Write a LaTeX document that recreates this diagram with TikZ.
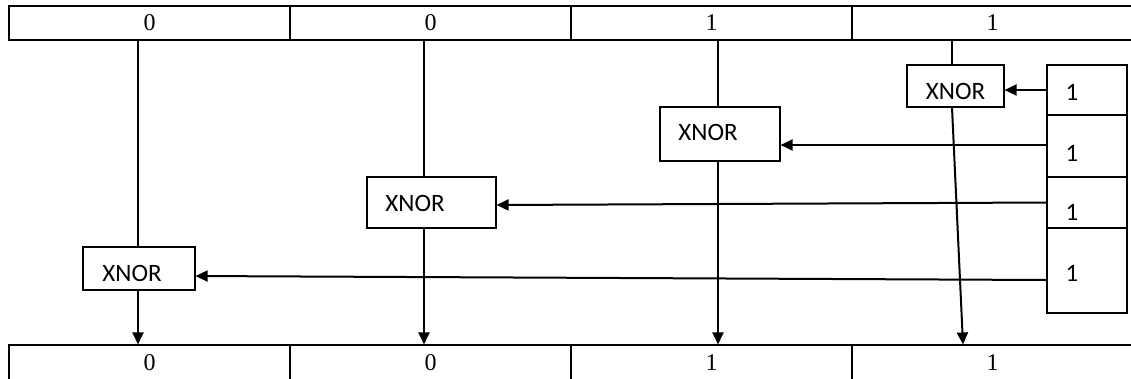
\documentclass[tikz,border=0pt]{standalone}
\usepackage{fontspec}
\setmainfont{Liberation Serif}
\newfontfamily\gatefont{Carlito}
\usetikzlibrary{arrows.meta}
\begin{document}
\begin{tikzpicture}[x=1pt,y=-1pt,
  thinline/.style={line width=1.1pt},
  cell/.style={draw,thinline,rectangle,inner sep=0pt,minimum width=281pt,minimum height=34pt,
    font=\fontsize{24}{27}\selectfont},
  lowcell/.style={cell,minimum height=40pt,text height=16pt,text depth=6pt},
  gatebox/.style={draw,thinline,rectangle,inner sep=0pt},
  gatetext/.style={inner sep=0pt,font=\gatefont\fontsize{25}{29}\selectfont},
  keybox/.style={draw,thinline,rectangle,inner sep=0pt,minimum width=80pt},
  arr/.style={line width=2pt,-{Triangle[length=12pt,width=11pt]}}]
\useasboundingbox (0,0) rectangle (1131,378);
\clip (0,0) rectangle (1131,378);
% top table
\node[cell] (t1) at (149.5,23) {0};
\node[cell] (t2) at (430.5,23) {0};
\node[cell] (t3) at (711.5,23) {1};
\node[cell] (t4) at (992.5,23) {1};
% bottom table (cut off by the lower edge)
\node[lowcell] (b1) at (149.5,365) {0};
\node[lowcell] (b2) at (430.5,365) {0};
\node[lowcell] (b3) at (711.5,365) {1};
\node[lowcell] (b4) at (992.5,365) {1};
% gates
\node[gatebox,minimum width=112pt,minimum height=43pt] (g1) at (139,268.5) {};
\node[gatebox,minimum width=129pt,minimum height=51pt] (g2) at (431.5,202.5) {};
\node[gatebox,minimum width=120pt,minimum height=54pt] (g3) at (720,134) {};
\node[gatebox,minimum width=97pt,minimum height=42pt] (g4) at (955.5,86) {};
\node[gatetext] (x1) at (132,273) {XNOR};
\node[gatetext] (x2) at (415,203) {XNOR};
\node[gatetext] (x3) at (708,132) {XNOR};
\node[gatetext] (x4) at (955.5,91) {XNOR};
% key register
\node[keybox,minimum height=50pt] (k1) at (1087,90) {};
\node[keybox,minimum height=62pt] (k2) at (1087,146) {};
\node[keybox,minimum height=51pt] (k3) at (1087,202.5) {};
\node[keybox,minimum height=85pt] (k4) at (1087,270.5) {};
\node[gatetext] (v1) at (1072,92) {1};
\node[gatetext] (v2) at (1072,153) {1};
\node[gatetext] (v3) at (1072,212) {1};
\node[gatetext] (v4) at (1072,273) {1};
% column positions
\coordinate (c1) at (138,0);
\coordinate (c2) at (424,0);
\coordinate (c3) at (718,0);
\coordinate (c4) at (952,0);
\coordinate (e4) at (963,0);
% column lines
\draw[thinline] (c1 |- t1.south) -- (c1 |- g1.north);
\draw[thinline] (c2 |- t2.south) -- (c2 |- g2.north);
\draw[thinline] (c3 |- t3.south) -- (c3 |- g3.north);
\draw[thinline] (c4 |- t4.south) -- (c4 |- g4.north);
\draw[arr] (c1 |- g1.south) -- (c1 |- b1.north);
\draw[arr] (c2 |- g2.south) -- (c2 |- b2.north);
\draw[arr] (c3 |- g3.south) -- (c3 |- b3.north);
\draw[arr] (c4 |- g4.south) -- (e4 |- b4.north);
% key arrows
\draw[arr] (k1.west) -- (g4.east |- k1.west);
\draw[arr] ([yshift=1pt]k2.west) -- ([yshift=1pt]g3.east |- k2.west);
\draw[arr] (k3.west) -- ([yshift=-2.5pt]g2.east);
\draw[arr] ([yshift=-9.5pt]k4.west) -- ([yshift=-7.5pt]g1.east);
\end{tikzpicture}
\end{document}
